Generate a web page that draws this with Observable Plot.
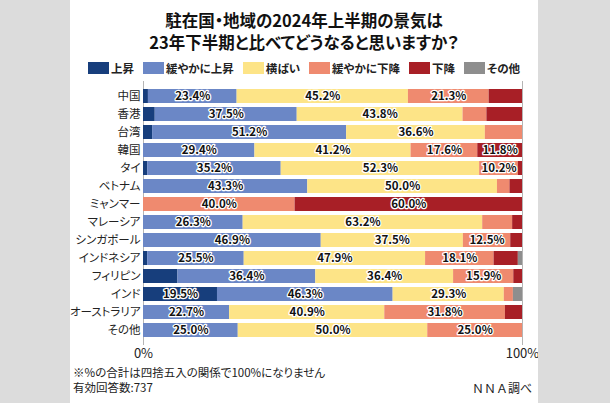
<!DOCTYPE html>
<html><head><meta charset="utf-8">
<script src="https://cdn.jsdelivr.net/npm/d3@7"></script>
<script src="https://cdn.jsdelivr.net/npm/@observablehq/plot@0.6"></script>
<style>
html,body{margin:0;padding:0;width:610px;height:403px;overflow:hidden;background:#dcdcdc;}
*{font-family:"Noto Sans CJK JP","Noto Sans",sans-serif;font-feature-settings:"palt";}
#panel{position:absolute;left:70px;top:0;width:468px;height:403px;background:#fff;}
.title{position:absolute;left:0;width:468px;text-align:center;font-size:16.5px;font-weight:bold;line-height:20px;color:#111;}
#legend{position:absolute;left:0;top:61px;width:468px;display:flex;justify-content:center;gap:9px;font-size:11.5px;font-weight:bold;color:#222;line-height:14px;}
#legend .it{display:flex;align-items:center;gap:2px;}
#legend .sw{width:21px;height:12px;display:inline-block;}
#chart{position:absolute;left:0;top:70px;}
.foot{position:absolute;font-size:11.5px;color:#222;line-height:13px;}
</style></head>
<body>
<div id="panel">
<div class="title" style="top:10px;">駐在国・地域の2024年上半期の景気は</div>
<div class="title" style="top:32px;">23年下半期と比べてどうなると思いますか？</div>
<div id="legend"></div>
<div id="chart"></div>
<div class="foot" style="left:3px;top:366px;">※%の合計は四捨五入の関係で100%になりません</div>
<div class="foot" style="left:3px;top:381px;">有効回答数:737</div>
<div class="foot" style="right:6px;top:381px;font-feature-settings:normal;font-size:12px;">ＮＮＡ調べ</div>
</div>
<script>
const categories = ["上昇","緩やかに上昇","横ばい","緩やかに下降","下降","その他"];
const colors = ["#173e7c","#6b87c6","#fde487","#ef8a6f","#a81f26","#8e8e8e"];
const regions = ["中国","香港","台湾","韓国","タイ","ベトナム","ミャンマー","マレーシア","シンガポール","インドネシア","フィリピン","インド","オーストラリア","その他"];
const up         = [1.3, 3.1, 2.4, 0,    1.1, 0,    0,    0,    0,    1.1,  9.1, 19.5, 0,    0];
const slightUp   = [23.4,37.5,51.2,29.4, 35.2,43.3, 0,    26.3, 46.9, 25.5, 36.4,46.3, 22.7, 25.0];
const flat       = [45.2,43.8,36.6,41.2, 52.3,50.0, 0,    63.2, 37.5, 47.9, 36.4,29.3, 40.9, 50.0];
const slightDown = [21.3,6.3, 9.8, 17.6, 10.2,3.3,  40.0, 7.9,  12.5, 18.1, 15.9,2.4,  31.8, 25.0];
const down       = [8.8, 9.4, 0,   11.8, 1.1, 3.3,  60.0, 2.6,  3.1,  6.4,  2.3, 0,    4.5,  0];
const other      = [0,   0,   0,   0,    0,   0,    0,    0,    0,    1.1,  0,   2.4,  0,    0];
const tickLabels = ["0%","100%"];

const series = [up, slightUp, flat, slightDown, down, other];
const data = [];
regions.forEach((r, i) => series.forEach((s, j) => data.push({region: r, cat: categories[j], value: s[i]})));

// legend
const lg = document.getElementById("legend");
categories.forEach((c, j) => {
  const it = document.createElement("div"); it.className = "it";
  const sw = document.createElement("span"); sw.className = "sw"; sw.style.background = colors[j];
  const t = document.createElement("span"); t.textContent = c;
  it.appendChild(sw); it.appendChild(t); lg.appendChild(it);
});

const stackOpts = {x: "value", y: "region", z: "cat", order: categories, offset: "normalize"};
const chart = Plot.plot({
  width: 468, height: 300,
  marginLeft: 73, marginRight: 16, marginTop: 11, marginBottom: 25,
  style: {fontFamily: '"Noto Sans CJK JP", sans-serif', fontSize: "12px", color: "#222", background: "transparent"},
  x: {domain: [0, 1]},
  y: {domain: regions, padding: 0.2},
  color: {domain: categories, range: colors},
  marks: [
    Plot.ruleX([0, 1], {stroke: "#b5b5b5", strokeWidth: 1}),
    Plot.barX(data, Plot.stackX({...stackOpts, fill: "cat"})),
    Plot.text(data, Plot.stackX({...stackOpts,
      text: d => d.value >= 10 ? d.value.toFixed(1) + "%" : "",
      fill: "#111", stroke: "white", strokeWidth: 2.5, fontSize: 11.5, fontWeight: "bold"})),
    Plot.axisY({tickSize: 0, tickPadding: 3, fontSize: 11.5, label: null}),
    Plot.axisX([0, 1], {tickFormat: (d, i) => tickLabels[i], tickSize: 0, tickPadding: 3, fontSize: 13, label: null})
  ]
});
document.getElementById("chart").appendChild(chart);
</script>
</body></html>
